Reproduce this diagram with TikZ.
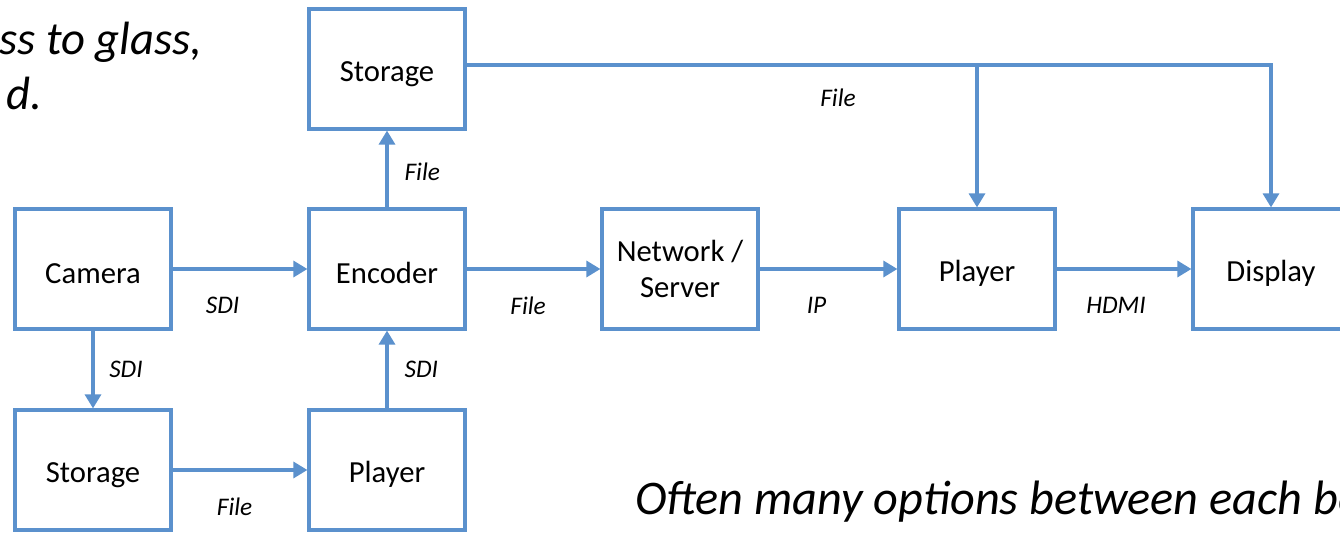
\documentclass[tikz,border=0pt]{standalone}
\usepackage{fontspec}
\setmainfont{Carlito}
\usetikzlibrary{arrows.meta}
\usetikzlibrary{positioning}

\definecolor{boxblue}{RGB}{91,145,205}
\tikzset{
  block/.style={draw=boxblue, line width=2.4pt, fill=white, minimum width=117pt,
    minimum height=90pt, align=center, font=\fontsize{23}{27}\selectfont,
    execute at begin node={\rule{0pt}{22pt}}},
  link/.style={draw=boxblue, line width=2.4pt, -{Triangle[length=10.5pt,width=12pt]}},
  lbl/.style={font=\fontsize{19}{22}\selectfont\itshape, inner sep=0pt},
  bigtext/.style={font=\fontsize{35}{42}\selectfont\itshape, inner sep=0pt, anchor=base west}
}

\begin{document}
\begin{tikzpicture}[x=0.75pt,y=-0.75pt]
  \useasboundingbox (0,0) rectangle (1340,534);

  % captions, cut by the page edge
  \node[bigtext] (glassA) at (-1,55) {ss to glass,};
  \node[bigtext] (glassB) at (6,110) {d.};
  \node[bigtext, font=\fontsize{36.2}{42}\selectfont\itshape] (options) at (635,515) {Often many options between each bo};

  % blocks
  \node[block] (store) at (387,69) {Storage};
  \node[block] (camera) at (93,269) {Camera};
  \node[block] (encoder) at (387,269) {Encoder};
  \node[block] (server) at (680,269) {Network /\\Server};
  \node[block] (player) at (977,269) {Player};
  \node[block] (display) at (1271,269) {Display};
  \node[block] (local) at (93,470) {Storage};
  \node[block] (playback) at (387,470) {Player};

  % links
  \draw[link] (camera) -- node[lbl, below=20pt, xshift=-13pt] (sdiA) {SDI} (encoder);
  \draw[link] (camera) -- node[lbl, right=11pt] (sdiB) {SDI} (local);
  \draw[link] (local) -- node[lbl, below=20pt, xshift=-4pt] (fileA) {File} (playback);
  \draw[link] (playback) -- node[lbl, right=12pt] (sdiC) {SDI} (encoder);
  \draw[link] (encoder) -- node[lbl, right=12pt, yshift=-2pt] (fileB) {File} (store);
  \draw[link] (encoder) -- node[lbl, below=20pt, xshift=-4pt] (fileC) {File} (server);
  \draw[link] (server) -- node[lbl, below=20pt, xshift=-9pt] (ipL) {IP} (player);
  \draw[link] (player) -- node[lbl, below=20pt, xshift=-6pt] (hdmiL) {HDMI} (display);

  % file feed along the top
  \coordinate (busL) at ([yshift=3pt]store.east);
  \coordinate (busR) at (display.north |- busL);
  \draw[link] (busL) -- (busR) -- (display.north);
  \draw[link] (player.north |- busL) -- (player.north);
  \node[lbl] (fileD) at (838,98) {File};
\end{tikzpicture}
\end{document}
